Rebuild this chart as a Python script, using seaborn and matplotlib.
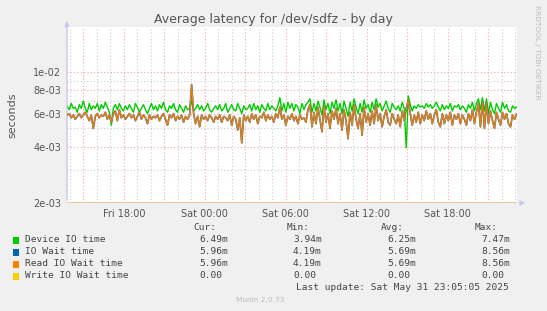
import matplotlib
matplotlib.use("Agg")
import matplotlib.pyplot as plt
import matplotlib.dates as mdates
from matplotlib.patches import Rectangle
import seaborn as sns
import pandas as pd
import numpy as np

# ---- data (values in milliseconds) ----
device_io_ms = [
    6.6, 6.3, 6.8, 6.4, 6.5, 6.1, 6.7, 6.4, 7.0, 6.4, 6.1, 6.8, 6.3, 6.6, 6.4,
    6.8, 6.2, 6.7, 6.4, 6.9, 6.5, 6.1, 5.2, 6.4, 6.7, 6.3, 6.8, 6.4, 6.2, 6.6,
    6.3, 6.7, 6.4, 6.1, 6.8, 6.5, 6.1, 6.4, 6.7, 6.3, 6.0, 6.4, 6.8, 6.3, 6.6,
    6.2, 6.7, 6.4, 6.9, 6.3, 6.1, 6.6, 6.4, 6.8, 6.3, 6.1, 6.7, 6.4, 6.1, 6.6,
    6.3, 6.4, 7.0, 6.2, 6.4, 6.7, 6.3, 6.6, 6.2, 6.4, 6.8, 6.3, 6.1, 6.4, 6.6,
    6.3, 6.7, 6.2, 6.4, 6.8, 6.1, 6.4, 6.7, 6.3, 6.2, 6.8, 6.4, 6.0, 6.6, 6.3,
    6.4, 6.7, 6.2, 6.8, 6.3, 6.6, 6.1, 6.7, 6.4, 6.2, 6.8, 6.3, 6.6, 6.4, 6.2,
    6.6, 7.3, 6.2, 6.8, 6.1, 6.9, 6.4, 6.8, 6.2, 6.7, 6.5, 6.0, 6.8, 6.3, 6.7,
    6.9, 7.2, 6.1, 6.8, 6.2, 7.0, 6.5, 5.9, 7.1, 6.3, 6.8, 6.0, 6.9, 6.4, 7.1,
    6.2, 6.8, 6.0, 7.0, 6.4, 5.8, 6.9, 6.2, 7.2, 6.5, 6.0, 6.8, 6.1, 7.1, 6.4,
    6.7, 6.1, 6.9, 6.3, 7.2, 6.5, 6.8, 6.2, 6.6, 7.0, 6.4, 6.1, 6.8, 6.5, 6.3,
    6.6, 6.2, 6.9, 6.4, 3.94, 7.47, 6.7, 6.2, 6.6, 6.4, 6.7, 6.5, 6.6, 6.4, 6.8,
    6.5, 6.7, 6.4, 6.6, 6.9, 6.5, 6.2, 6.7, 6.3, 6.6, 6.4, 6.8, 6.2, 6.6, 6.5,
    6.7, 6.3, 6.6, 6.4, 6.1, 6.7, 6.4, 6.9, 6.2, 6.8, 7.2, 6.3, 7.3, 6.2, 7.2,
    6.0, 6.9, 6.3, 6.0, 6.8, 6.4, 6.1, 6.9, 6.4, 6.7, 6.2, 6.1, 6.6, 6.4, 6.49,
]
read_io_ms = [
    5.9, 6.0, 5.7, 5.9, 5.6, 5.8, 6.0, 5.7, 5.9, 6.1, 5.8, 5.5, 5.9, 5.0, 5.8,
    6.0, 5.7, 5.9, 5.8, 6.1, 5.6, 5.9, 5.4, 6.0, 6.2, 5.5, 6.3, 5.7, 5.9, 5.6,
    5.8, 6.0, 5.7, 5.9, 5.5, 5.8, 6.1, 5.6, 5.9, 5.7, 5.3, 5.9, 5.6, 5.8, 5.7,
    5.9, 5.5, 5.8, 6.0, 5.6, 5.2, 5.9, 5.7, 6.0, 5.5, 5.8, 5.6, 5.9, 5.4, 5.8,
    5.6, 5.9, 8.56, 6.0, 5.3, 5.8, 5.1, 5.9, 5.6, 5.8, 5.5, 5.9, 5.7, 5.4, 5.8,
    5.6, 5.9, 5.4, 5.8, 5.7, 5.5, 5.9, 5.2, 5.8, 5.6, 4.9, 5.7, 4.19, 5.9, 5.5,
    5.8, 5.4, 6.0, 5.6, 5.9, 5.3, 5.8, 5.7, 6.1, 5.5, 5.9, 5.6, 5.8, 5.4, 6.0,
    5.7, 6.5, 5.6, 5.9, 5.2, 5.8, 5.6, 6.0, 5.5, 5.8, 5.3, 5.9, 5.6, 5.7, 5.4,
    6.3, 6.7, 5.1, 6.1, 5.3, 6.5, 5.6, 4.8, 6.6, 5.4, 6.0, 5.0, 6.2, 5.6, 6.4,
    5.3, 6.0, 4.9, 6.3, 5.5, 4.4, 6.1, 5.2, 6.7, 5.6, 5.0, 6.0, 4.6, 6.5, 5.4,
    6.0, 5.2, 6.2, 5.3, 6.7, 5.5, 6.0, 5.1, 5.8, 6.3, 5.4, 5.2, 6.0, 5.6, 5.3,
    5.9, 5.1, 6.2, 5.5, 6.4, 7.1, 6.0, 5.2, 5.9, 5.4, 6.1, 5.3, 5.9, 5.5, 6.2,
    5.6, 6.0, 5.3, 5.9, 6.3, 5.4, 5.1, 6.0, 5.3, 5.9, 5.5, 6.1, 5.2, 5.9, 5.6,
    6.0, 5.3, 5.9, 5.6, 5.2, 6.0, 5.5, 6.3, 5.3, 6.1, 6.8, 5.1, 7.0, 5.0, 6.8,
    5.3, 6.2, 5.5, 5.0, 6.1, 5.6, 5.2, 6.1, 5.6, 6.0, 5.3, 5.1, 5.9, 5.6, 5.96,
]
io_wait_ms = list(read_io_ms)
write_io_ms = [0.0] * len(read_io_ms)

series_names = ["Device IO time", "IO Wait time", "Read IO Wait time", "Write IO Wait time"]
series_colors = ["#00CC00", "#0066B3", "#FF8000", "#FFCC00"]
cur_vals = ["6.49m", "5.96m", "5.96m", "0.00"]
min_vals = ["3.94m", "4.19m", "4.19m", "0.00"]
avg_vals = ["6.25m", "5.69m", "5.69m", "0.00"]
max_vals = ["7.47m", "8.56m", "8.56m", "0.00"]

y_major = [2e-3, 4e-3, 6e-3, 8e-3, 1e-2]
y_minor = [3e-3, 5e-3, 7e-3, 9e-3]
x_ticks = ["2025-05-30 18:00", "2025-05-31 00:00", "2025-05-31 06:00",
           "2025-05-31 12:00", "2025-05-31 18:00"]

t_start = pd.Timestamp("2025-05-30 13:47")
t_end = pd.Timestamp("2025-05-31 23:07")
times = pd.date_range("2025-05-30 13:48", "2025-05-31 23:05", periods=len(device_io_ms))

df = pd.DataFrame({
    "time": times,
    "device": np.array(device_io_ms) / 1000.0,
    "iowait": np.array(io_wait_ms) / 1000.0,
    "read": np.array(read_io_ms) / 1000.0,
})

# ---- figure ----
W, H = 547, 311
fig = plt.figure(figsize=(W / 100, H / 100), dpi=100, facecolor="#F0F0F0")
L, R, T, B = 67, 517, 27, 203
ax = fig.add_axes([L / W, 1 - B / H, (R - L) / W, (B - T) / H])
ax.set_facecolor("white")

ax.set_yscale("log")
ylo, yhi = 2e-3, 1.74e-2
ax.set_ylim(ylo, yhi)
ax.set_xlim(t_start, t_end)

# grid
minor_grid = dict(color="#CCCCCC", lw=0.8, ls=(0, (1, 2)), zorder=0)
major_grid = dict(color="#F0A8A8", lw=0.8, ls=(0, (1, 2)), zorder=0.5)
for v in y_minor:
    ax.axhline(v, **minor_grid)
for v in y_major:
    ax.axhline(v, **major_grid)
hours = pd.date_range("2025-05-30 14:00", "2025-05-31 23:00", freq="1h")
for h in hours:
    if h.hour % 3 == 0:
        ax.axvline(h, **major_grid)
    else:
        ax.axvline(h, **minor_grid)

sns.lineplot(data=df, x="time", y="device", ax=ax, color=series_colors[0], lw=1.0, zorder=3)
sns.lineplot(data=df, x="time", y="iowait", ax=ax, color=series_colors[1], lw=1.2, zorder=4)
sns.lineplot(data=df, x="time", y="read", ax=ax, color=series_colors[2], lw=1.0, alpha=0.93, zorder=5)
# write IO time is 0 -> sits on the bottom of the log axis
ax.axhline(ylo * 1.003, color="#E8C89A", lw=1.4, zorder=6)

for s in ax.spines.values():
    s.set_visible(False)

ax.set_yticks(y_major)
ax.set_yticklabels(["{:.0e}".format(v) for v in y_major])
ax.yaxis.set_minor_locator(matplotlib.ticker.NullLocator())
ax.set_xticks([pd.Timestamp(t) for t in x_ticks])
ax.xaxis.set_major_formatter(mdates.DateFormatter("%a %H:%M"))
ax.tick_params(axis="both", length=0, labelsize=7, labelcolor="#555555", pad=4)
ax.set_xlabel("")
ax.set_ylabel("")

# axis lines with arrows
axis_col = "#C8C8F0"
ax.annotate("", xy=(0, 1.05), xytext=(0, 0), xycoords="axes fraction",
            arrowprops=dict(arrowstyle="-|>", color=axis_col, lw=1, mutation_scale=7),
            annotation_clip=False)
ax.annotate("", xy=(1.025, 0), xytext=(1.0, 0), xycoords="axes fraction",
            arrowprops=dict(arrowstyle="-|>", color=axis_col, lw=1, mutation_scale=7),
            annotation_clip=False)

def fx(x):
    return x / W

def fy(y):
    return 1 - y / H

fig.text(fx(273), fy(19), "Average latency for /dev/sdfz - by day", ha="center", va="center",
         fontsize=9, color="#555555")
fig.text(fx(12), fy(115), "seconds", rotation=90, ha="center", va="center",
         fontsize=8, color="#555555")
fig.text(fx(537), fy(52), "RRDTOOL / TOBI OETIKER", rotation=270, ha="center", va="center",
         fontsize=5.3, color="#BBBBBB")

mono = dict(family="DejaVu Sans Mono", fontsize=6.8, color="#444444", va="center")
heads = [("Cur:", 193), ("Min:", 287), ("Avg:", 381), ("Max:", 475)]
for txt, x in heads:
    fig.text(fx(x), fy(228), txt, ha="left", **mono)
cols = [cur_vals, min_vals, avg_vals, max_vals]
vx = [199, 293, 387, 481]
for i, (name, col) in enumerate(zip(series_names, series_colors)):
    yy = 240 + 12 * i
    fig.add_artist(Rectangle((fx(13), fy(yy + 3.5)), 6 / W, 7 / H, transform=fig.transFigure,
                             facecolor=col, edgecolor="none"))
    fig.text(fx(25), fy(yy), name, ha="left", **mono)
    for c, x in zip(cols, vx):
        fig.text(fx(x), fy(yy), c[i], ha="left", **mono)
fig.text(fx(509), fy(288), "Last update: Sat May 31 23:05:05 2025", ha="right", **mono)
fig.text(fx(260), fy(300), "Munin 2.0.73", ha="center", va="center", fontsize=5.3, color="#BBBBBB")

fig.savefig("out.png", dpi=100, facecolor=fig.get_facecolor())
